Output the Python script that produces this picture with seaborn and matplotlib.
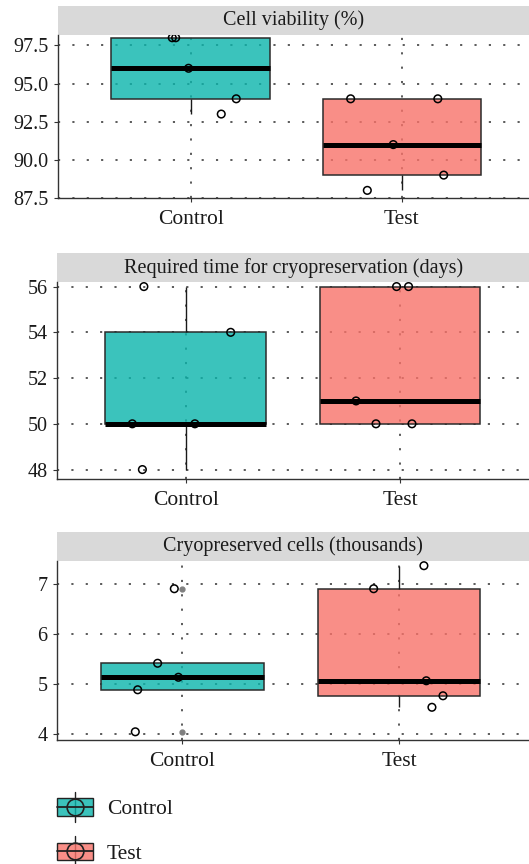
import numpy as np
import pandas as pd
import matplotlib
matplotlib.use("Agg")
import matplotlib.pyplot as plt
import seaborn as sns
from matplotlib.patches import Rectangle, Patch
from matplotlib.lines import Line2D
from matplotlib.legend_handler import HandlerBase
from matplotlib.colors import to_rgba

# data
groups = ["Control", "Test"]
viability_control = [98, 98, 96, 94, 93]
viability_test = [94, 94, 91, 88, 89]
time_control = [56, 54, 50, 50, 48]
time_test = [56, 56, 51, 50, 50]
cells_control = [6.91, 5.42, 5.14, 4.89, 4.05]
cells_test = [7.37, 6.91, 5.07, 4.77, 4.54]

# horizontal jitter of each point (category units)
viability_jitter_control = [-0.087, -0.071, -0.010, 0.216, 0.145]
viability_jitter_test = [-0.242, 0.171, -0.040, -0.163, 0.199]
time_jitter_control = [-0.195, 0.210, -0.249, 0.043, -0.202]
time_jitter_test = [-0.016, 0.040, -0.205, -0.112, 0.056]
cells_jitter_control = [-0.037, -0.114, -0.018, -0.206, -0.217]
cells_jitter_test = [0.115, -0.117, 0.126, 0.203, 0.152]

titles = ["Cell viability (%)", "Required time for cryopreservation (days)",
          "Cryopreserved cells (thousands)"]
colors = {"Control": "#0ab4ab", "Test": "#f87269"}

sns.set_theme(style="white")
plt.rcParams["font.family"] = ["Liberation Serif", "DejaVu Serif"]

W, H = 529, 864
fig = plt.figure(figsize=(W / 100, H / 100), dpi=100)

# (left, top, bottom) in pixels, strip height, xlim, ylim, yticks, fmt
panels = [
    dict(px=(58.3, 34.7, 198.0), strip=28.7, xlim=(-0.627, 1.603), ylim=(87.5, 98.2),
         yticks=[87.5, 90.0, 92.5, 95.0, 97.5], fmt="{:.1f}",
         data=(viability_control, viability_test),
         jit=(viability_jitter_control, viability_jitter_test)),
    dict(px=(57.3, 282.0, 478.7), strip=28.7, xlim=(-0.599, 1.602), ylim=(47.6, 56.2),
         yticks=[48, 50, 52, 54, 56], fmt="{:.0f}",
         data=(time_control, time_test),
         jit=(time_jitter_control, time_jitter_test)),
    dict(px=(57.3, 560.7, 740.0), strip=28.4, xlim=(-0.577, 1.600), ylim=(3.886, 7.47),
         yticks=[4, 5, 6, 7], fmt="{:.0f}",
         data=(cells_control, cells_test),
         jit=(cells_jitter_control, cells_jitter_test)),
]

for title, p in zip(titles, panels):
    left, top, bottom = p["px"]
    ax = fig.add_axes([left / W, 1 - bottom / H, 1 - left / W, (bottom - top) / H])
    ctrl, test = p["data"]
    df = pd.DataFrame({"group": ["Control"] * len(ctrl) + ["Test"] * len(test),
                       "value": list(ctrl) + list(test)})
    sns.boxplot(data=df, x="group", y="value", hue="group", order=groups,
                hue_order=groups, palette=colors, saturation=1, legend=False,
                width=0.75, linewidth=1.1, linecolor="#2b2b2b", showcaps=False, whis=1.5,
                medianprops=dict(color="black", linewidth=3.6),
                whiskerprops=dict(color="#1a1a1a", linewidth=1.0),
                flierprops=dict(marker="o", markersize=3.5, markerfacecolor="#808080",
                                markeredgecolor="#808080"),
                ax=ax)
    for patch in ax.patches:
        fc = patch.get_facecolor()
        patch.set_facecolor((fc[0], fc[1], fc[2], 0.8))

    for i, (vals, jit) in enumerate(zip(p["data"], p["jit"])):
        ax.scatter(np.full(len(vals), i) + np.array(jit), vals, s=30,
                   facecolors="none", edgecolors="black", linewidths=1.1, zorder=5)

    ax.set_xlim(*p["xlim"])
    ax.set_ylim(*p["ylim"])
    ax.set_yticks(p["yticks"])
    ax.set_yticklabels([p["fmt"].format(v) for v in p["yticks"]])
    ax.set_xticks([0, 1])
    ax.set_xticklabels(groups)
    ax.set_xlabel("")
    ax.set_ylabel("")
    ax.grid(True, color="#2e2e2e", linestyle=(0, (1.4, 8)), linewidth=1.1)
    ax.set_axisbelow(True)
    for s in ["top", "right"]:
        ax.spines[s].set_visible(False)
    for s in ["left", "bottom"]:
        ax.spines[s].set_color("#333333")
        ax.spines[s].set_linewidth(1.0)
    ax.tick_params(axis="both", length=3, width=0.8, color="#333333",
                   labelcolor="#1a1a1a", left=True, bottom=True)
    ax.tick_params(axis="y", pad=4, labelsize=14.5)
    ax.tick_params(axis="x", pad=6, labelsize=15.5)

    # facet strip
    h_frac = p["strip"] / (bottom - top)
    ax.add_patch(Rectangle((0, 1), 1, h_frac, transform=ax.transAxes,
                           facecolor="#d9d9d9", edgecolor="none", clip_on=False))
    ax.text(0.5, 1 + h_frac / 2, title, transform=ax.transAxes, ha="center",
            va="center", fontsize=14.5, color="#1a1a1a")


class BoxHandler(HandlerBase):
    def create_artists(self, legend, orig_handle, xdescent, ydescent, width,
                       height, fontsize, trans):
        x0, y0 = -xdescent, -ydescent
        cx, cy = x0 + width / 2, y0 + height / 2
        whisk = Line2D([cx, cx], [y0 - 0.35 * height, y0 + 1.35 * height],
                       color="#222222", lw=1.0, transform=trans)
        box = Rectangle((x0, y0), width, height, facecolor=orig_handle.get_facecolor(),
                        edgecolor="#222222", lw=1.0, transform=trans)
        med = Line2D([x0, x0 + width], [cy, cy], color="#222222", lw=1.3, transform=trans)
        circ = Line2D([cx], [cy], marker="o", markersize=12, markerfacecolor="none",
                      markeredgecolor="#222222", markeredgewidth=1.2, transform=trans)
        return [whisk, box, med, circ]


handles = [Patch(facecolor=to_rgba(colors[g], 0.8)) for g in groups]
fig.legend(handles, groups, handler_map={Patch: BoxHandler()}, loc="center left",
           bbox_to_anchor=(57 / W, 1 - 831 / H), frameon=False, fontsize=15.5,
           handlelength=1.67, handleheight=0.88, handletextpad=0.65, labelspacing=1.08,
           borderpad=0, borderaxespad=0, labelcolor="#1a1a1a")

fig.savefig("out.png", dpi=100)
